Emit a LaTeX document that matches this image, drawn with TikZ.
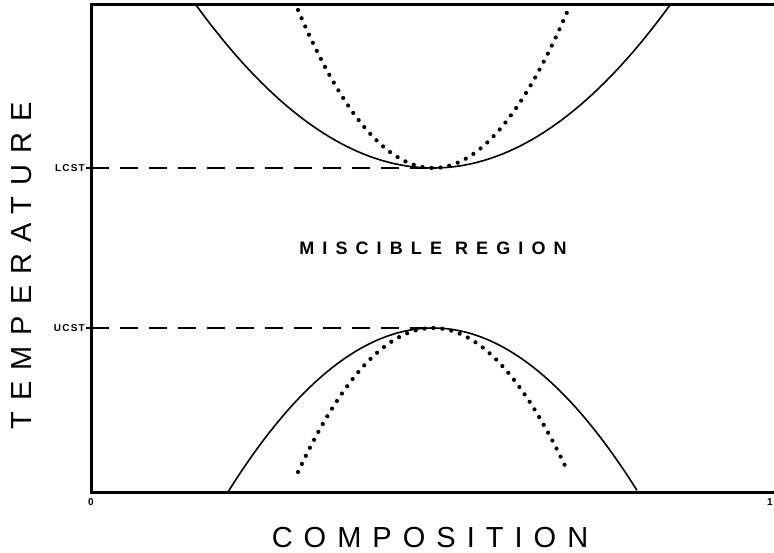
\documentclass[tikz,border=0pt]{standalone}
\usepackage{fontspec}
\setmainfont{Liberation Sans}
\newfontfamily\plotfont[LetterSpace=38]{Liberation Sans}
\newfontfamily\regionfont[LetterSpace=45]{Liberation Sans}
\newfontfamily\tickfont[LetterSpace=12]{Liberation Sans}
\usetikzlibrary{positioning, calc}
\tikzset{
	axisline/.style={
			line width=3pt,
			line cap=rect
		},
	phasecurve/.style={
			line width=1.6pt
		},
	spinodal/.style={
			line width=4.2pt,
			line cap=round,
			dash pattern=on 0pt off 9pt
		},
	criticalline/.style={
			line width=2.6pt,
			dash pattern=on 18pt off 11pt
		},
	ticklabel/.style={
			font=\fontsize{10}{10}\tickfont\bfseries,
			inner sep=1pt
		},
	axistitle/.style={
			font=\fontsize{29}{29}\plotfont,
			inner sep=0pt
		}
}

\begin{document}
\begin{tikzpicture}[x=1pt, y=-1pt]

\useasboundingbox (0,0) rectangle (774,553);

% frame
\draw[axisline] (774,5) -- (91,5) -- (91,492) -- (774,492);

% critical points
\coordinate (lcst) at (433,168);
\coordinate (ucst) at (433,328);

% binodal curves
\draw[phasecurve] plot[domain=196:670, samples=80] (\x, {168 - 163*((\x-433)/237)^2});
\draw[phasecurve] plot[domain=228:637, samples=80] (\x, {328 + 164*((\x-433)/205)^2});

% spinodal curves
\draw[spinodal] plot[domain=298:568, samples=80] (\x, {168 - 158*((\x-433)/135)^2});
\draw[spinodal] plot[domain=298:568, samples=80] (\x, {328 + 144*((\x-433)/135)^2});

% labels
\node[ticklabel, anchor=east] (lcstlab) at (86,168) {LCST};
\node[ticklabel, anchor=east] (ucstlab) at (86,328) {UCST};
\draw[line width=1.4pt] (lcstlab.east) -- ++(14,0);
\draw[line width=1.4pt] (ucstlab.east) -- ++(14,0);
\draw[criticalline] (91,168) -- (lcst);
\draw[criticalline] (91,328) -- (ucst);

\node[ticklabel, anchor=north] (zero) at (91,497) {0};
\node[ticklabel, anchor=north east] (one) at (774,497) {1};

\node[font=\fontsize{18}{18}\regionfont\bfseries] (region) at (433,248) {MISCIBLE REGION};

\node[axistitle] (ytitle) at (22,266) [rotate=90] {TEMPERATURE};
\node[axistitle] (xtitle) at (430,538) {COMPOSITION};

\end{tikzpicture}
\end{document}
